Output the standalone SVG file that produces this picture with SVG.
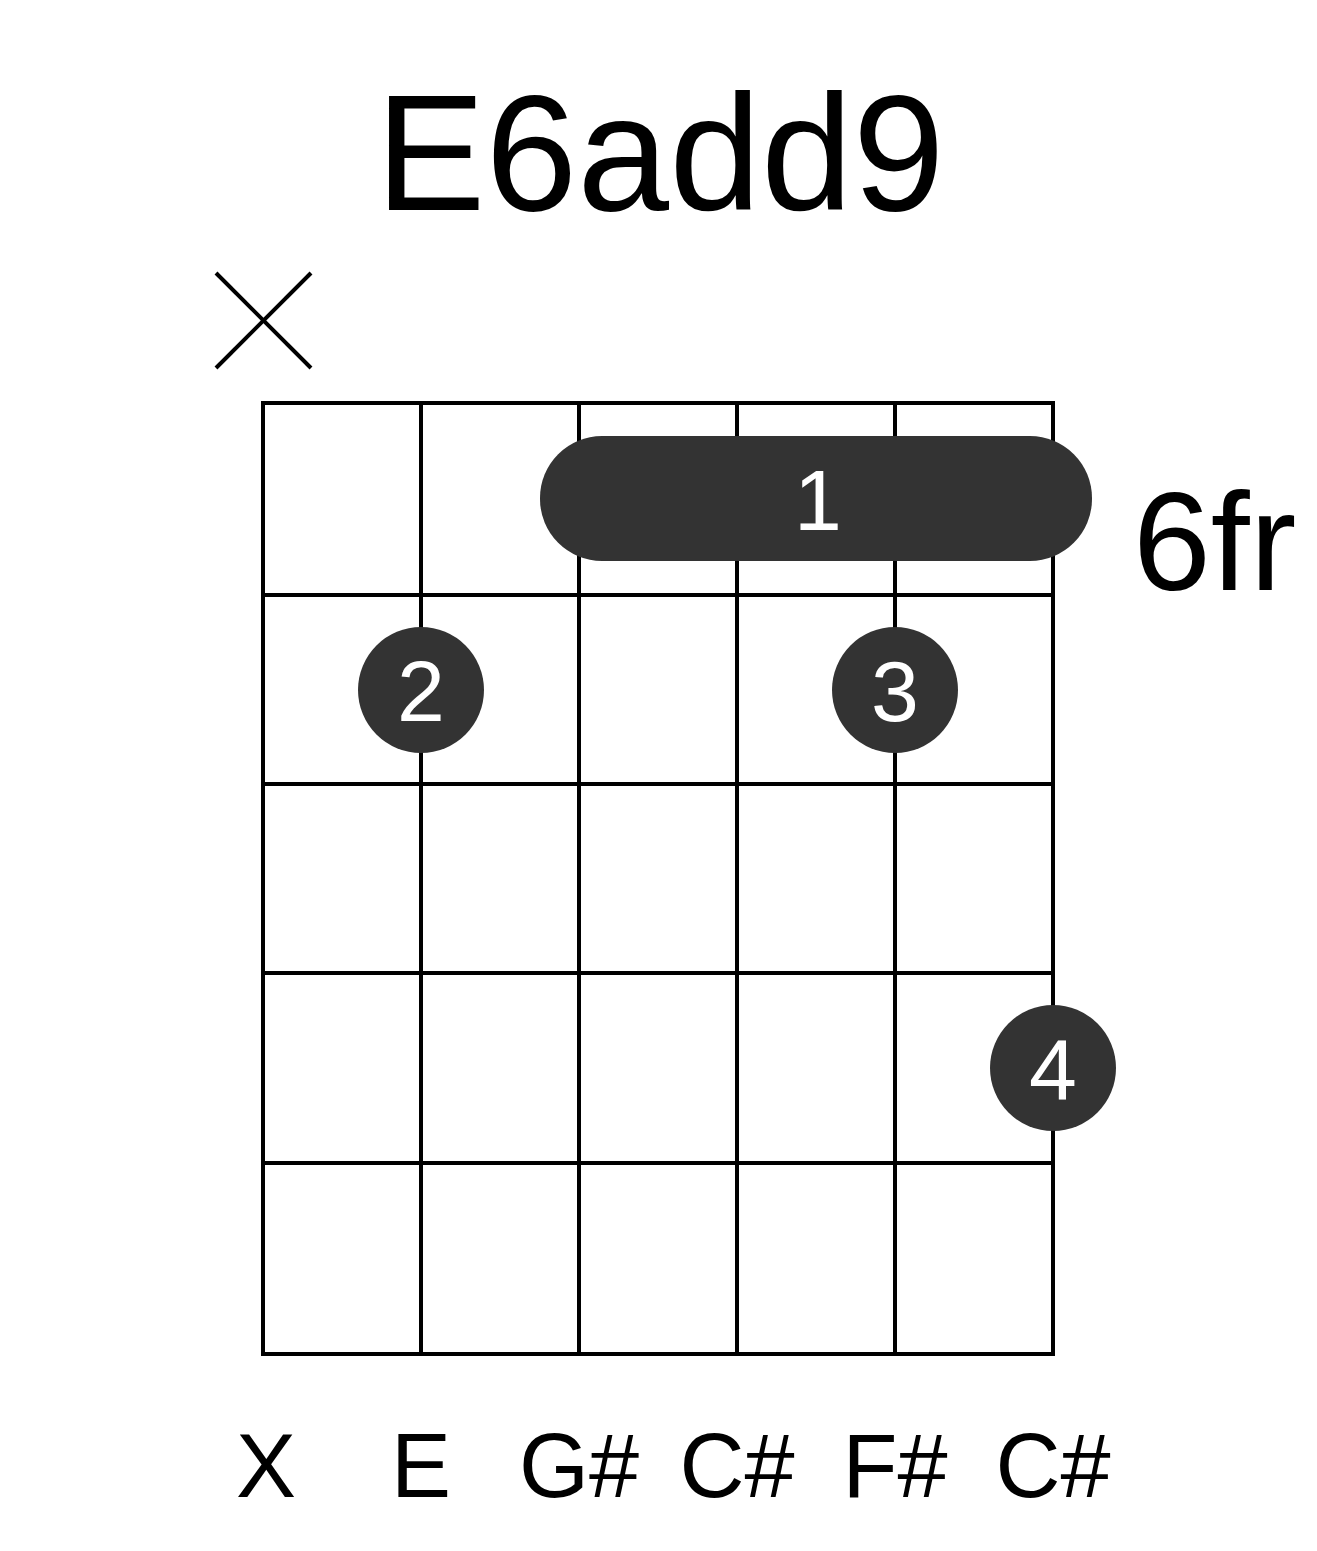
<svg xmlns="http://www.w3.org/2000/svg" width="1317" height="1551" viewBox="0 0 1317 1551">
<style>
.g{stroke:#000;stroke-width:4;fill:none}
.t{font-family:"Liberation Sans",Arial,sans-serif;fill:#000}
.d{fill:#333}
.w{font-family:"Liberation Sans",Arial,sans-serif;fill:#fff;font-size:86px;text-anchor:middle}
.n{font-size:90px;text-anchor:middle}
</style>
<rect width="1317" height="1551" fill="#fff"/>
<text class="t" x="660" y="210" font-size="165" text-anchor="middle">E6add9</text>
<g id="mute" class="g"><line x1="216" y1="273" x2="311" y2="368"/><line x1="311" y1="273" x2="216" y2="368"/></g>
<g id="grid" class="g">
<rect x="263" y="403" width="790" height="951"/>
<line x1="421" y1="403" x2="421" y2="1354"/><line x1="579" y1="403" x2="579" y2="1354"/><line x1="737" y1="403" x2="737" y2="1354"/><line x1="895" y1="403" x2="895" y2="1354"/>
<line x1="263" y1="595" x2="1053" y2="595"/><line x1="263" y1="784" x2="1053" y2="784"/><line x1="263" y1="973" x2="1053" y2="973"/><line x1="263" y1="1163" x2="1053" y2="1163"/>
</g>
<g id="barre"><rect class="d" x="540" y="436" width="552" height="125" rx="62"/><text class="w" x="818" y="530">1</text></g>
<g id="f2"><circle class="d" cx="421" cy="690" r="63"/><text class="w" x="421" y="721">2</text></g>
<g id="f3"><circle class="d" cx="895" cy="690" r="63"/><text class="w" x="895" y="721">3</text></g>
<g id="f4"><circle class="d" cx="1053" cy="1068" r="63"/><text class="w" x="1053" y="1099">4</text></g>
<text class="t" x="1133" y="590" font-size="140">6fr</text>
<g id="labels" class="t">
<text class="t n" x="266" y="1497">X</text><text class="t n" x="421" y="1497">E</text><text class="t n" x="579" y="1497">G#</text><text class="t n" x="737" y="1497">C#</text><text class="t n" x="895" y="1497">F#</text><text class="t n" x="1053" y="1497">C#</text>
</g>
</svg>
